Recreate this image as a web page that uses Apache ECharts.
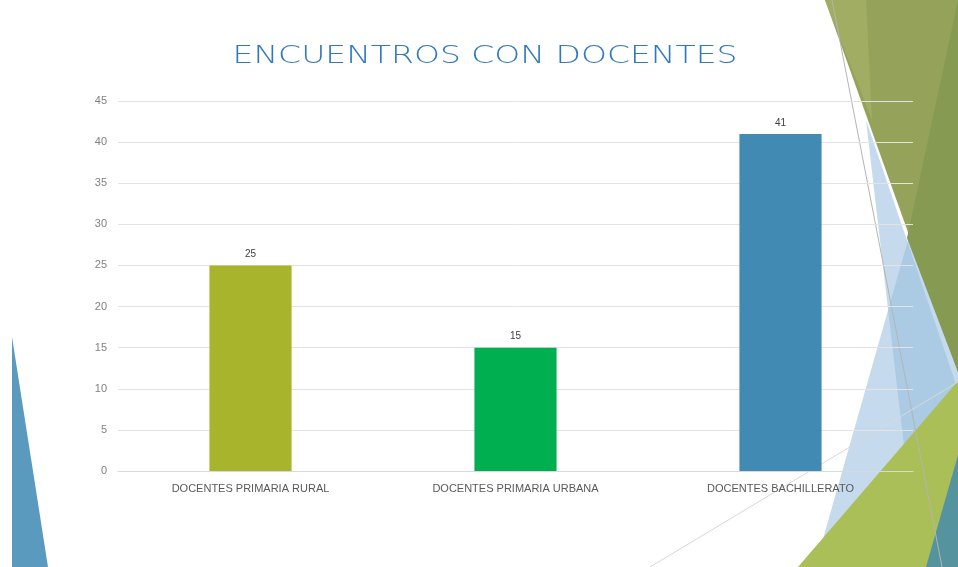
<!DOCTYPE html>
<html>
<head>
<meta charset="utf-8">
<script src="https://cdn.jsdelivr.net/npm/echarts@6/dist/echarts.min.js"></script>
<style>
  html, body { margin: 0; padding: 0; background: #fff; }
  #chart { width: 958px; height: 567px; }
</style>
</head>
<body>
<div id="chart"></div>
<script>
// categorías y valores
var titulo = 'ENCUENTROS CON DOCENTES';
var categorias = ['DOCENTES PRIMARIA RURAL', 'DOCENTES PRIMARIA URBANA', 'DOCENTES BACHILLERATO'];
var valores = [25, 15, 41];
var colores = ['#a8b42b', '#00b050', '#418ab3'];

var chart = echarts.init(document.getElementById('chart'));

// triángulos decorativos de la diapositiva (orden = de atrás hacia adelante)
var decor = [
  { pts: [[866, 120], [958, 390], [918, 567]], fill: 'rgba(150,190,222,0.55)' },
  { pts: [[945, 110], [958, 110], [958, 567], [815, 567]], fill: 'rgba(150,190,222,0.55)' },
  { pts: [[825, 0], [958, 0], [958, 372]], fill: '#95a35a' },
  { pts: [[825, 0], [866, 0], [872, 120]], fill: '#a1ad62' },
  { pts: [[958, 0], [907, 238], [958, 372]], fill: '#879a52' },
  { pts: [[798, 567], [958, 381], [958, 567]], fill: '#aabf57' },
  { pts: [[926, 567], [958, 455], [958, 567]], fill: '#55939f' },
  { pts: [[12, 337], [12, 567], [48, 567]], fill: '#5b9abf' }
];
var graphics = decor.map(function (d) {
  return { type: 'polygon', z: -10, shape: { points: d.pts }, style: { fill: d.fill } };
});
graphics.push({ type: 'line', z: -9, shape: { x1: 832, y1: 0, x2: 942, y2: 567 }, style: { stroke: '#b4b4b4', lineWidth: 1 } });
graphics.push({ type: 'line', z: -9, shape: { x1: 650, y1: 567, x2: 958, y2: 382 }, style: { stroke: '#d8d8d8', lineWidth: 1 } });
// título ancho (letra manuscrita en el original)
graphics.push({
  type: 'text', x: 485, y: 56, scaleX: 1.32,
  style: {
    text: titulo,
    fill: '#2f78c0',
    font: '200 25px "DejaVu Sans"',
    textAlign: 'center',
    textVerticalAlign: 'middle'
  }
});

var option = {
  backgroundColor: '#fff',
  graphic: graphics,
  grid: { left: 118, right: 45, top: 101, bottom: 96 },
  xAxis: {
    type: 'category',
    data: categorias,
    axisLine: { lineStyle: { color: '#d9d9d9' } },
    axisTick: { show: false },
    axisLabel: { color: '#595959', fontSize: 11, fontFamily: 'Liberation Sans', margin: 12 }
  },
  yAxis: {
    type: 'value',
    min: 0,
    max: 45,
    interval: 5,
    axisLine: { show: false },
    axisTick: { show: false },
    axisLabel: { color: '#808080', fontSize: 11, fontFamily: 'Liberation Sans', margin: 11 },
    splitLine: { lineStyle: { color: '#e3e3e3' } }
  },
  series: [{
    type: 'bar',
    data: valores.map(function (v, i) { return { value: v, itemStyle: { color: colores[i] } }; }),
    barWidth: '31%',
    label: { show: true, position: 'top', color: '#404040', fontSize: 10, fontFamily: 'Liberation Sans', distance: 6 }
  }]
};
chart.setOption(option);
</script>
</body>
</html>
